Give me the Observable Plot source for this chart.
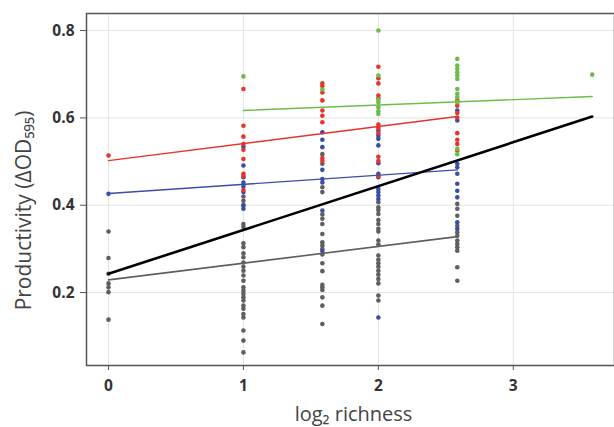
<!DOCTYPE html>
<html><head><meta charset="utf-8">
<script src="https://cdn.jsdelivr.net/npm/d3@7"></script>
<script src="https://cdn.jsdelivr.net/npm/@observablehq/plot@0.6"></script>
<style>
html,body{margin:0;padding:0;background:#fff;}
#chart svg{display:block;font-family:"Open Sans","Noto Sans",sans-serif;}
</style></head><body><div id="chart"></div>
<script>
// richness levels (x = log2 richness)
const richness = [1, 2, 3, 4, 6, 12];
const xTicks = [0, 1, 2, 3];
const yTicks = [0.2, 0.4, 0.6, 0.8];

// observed productivity per richness level, by group
const grayVals = [
  [0.340,0.279,0.243,0.221,0.212,0.201,0.138],
  [0.420,0.410,0.400,0.357,0.350,0.313,0.304,0.290,0.281,0.269,0.259,0.250,0.239,0.227,0.212,0.204,0.197,0.189,0.182,0.170,0.163,0.151,0.143,0.113,0.090,0.063],
  [0.517,0.495,0.441,0.430,0.379,0.369,0.357,0.334,0.315,0.308,0.300,0.287,0.267,0.249,0.218,0.212,0.206,0.189,0.170,0.128],
  [0.407,0.395,0.389,0.380,0.366,0.357,0.346,0.340,0.319,0.310,0.285,0.275,0.267,0.259,0.250,0.241,0.231,0.221,0.193,0.182],
  [0.403,0.392,0.376,0.353,0.338,0.330,0.319,0.311,0.304,0.296,0.258,0.227],
  []
];
const blueVals = [
  [0.426],
  [0.534,0.491,0.464,0.452,0.443,0.430,0.400,0.392],
  [0.567,0.550,0.533,0.481,0.460,0.452,0.388,0.295],
  [0.571,0.559,0.552,0.537,0.496,0.472,0.464,0.437,0.430,0.422,0.414,0.143],
  [0.617,0.594,0.495,0.487,0.472,0.449,0.433,0.418,0.361,0.346],
  []
];
const redVals = [
  [0.514],
  [0.666,0.582,0.557,0.540,0.527,0.506,0.472,0.467,0.435],
  [0.679,0.673,0.658,0.640,0.617,0.605,0.590,0.508,0.502],
  [0.717,0.691,0.679,0.651,0.645,0.585,0.577,0.565,0.511,0.501,0.467],
  [0.640,0.628,0.611,0.601,0.565,0.550,0.540,0.525],
  []
];
const greenVals = [
  [],
  [0.695],
  [0.665],
  [0.800,0.697,0.642,0.636,0.624,0.615,0.609],
  [0.735,0.720,0.712,0.704,0.697,0.689,0.666,0.655,0.647,0.636,0.529,0.517],
  [0.699]
];

// fitted regression lines: [x0, y0, x1, y1] in (log2 richness, productivity)
const fitGray  = [0, 0.229, Math.log2(6), 0.328];
const fitBlue  = [0, 0.427, Math.log2(6), 0.481];
const fitRed   = [0, 0.502, Math.log2(6), 0.603];
const fitGreen = [1, 0.617, Math.log2(12), 0.649];
const fitBlack = [0, 0.243, Math.log2(12), 0.603];

const colors = {gray:"#5f5f5f", blue:"#3a4ea6", red:"#e5342a", green:"#6dbd4a", black:"#000000"};
const xDomain = [-0.163, 3.75];
const yDomain = [0.033, 0.839];

function toRows(vals, group) {
  const rows = [];
  vals.forEach((arr, i) => arr.forEach(v => rows.push({x: Math.log2(richness[i]), y: v, group})));
  return rows;
}
const pts = [
  ...toRows(grayVals, "gray"),
  ...toRows(blueVals, "blue"),
  ...toRows(redVals, "red"),
  ...toRows(greenVals, "green")
];
function fitRows(f, group) { return [{x:f[0], y:f[1], group}, {x:f[2], y:f[3], group}]; }
const fits = [
  {rows: fitRows(fitGray, "gray"), w: 1.6},
  {rows: fitRows(fitBlue, "blue"), w: 1.4},
  {rows: fitRows(fitRed, "red"), w: 1.4},
  {rows: fitRows(fitGreen, "green"), w: 1.4},
  {rows: fitRows(fitBlack, "black"), w: 2.6}
];

const chart = Plot.plot({
  width: 614,
  height: 427,
  marginLeft: 86,
  marginRight: 0,
  marginTop: 13,
  marginBottom: 62,
  style: {fontFamily: '"Open Sans","Noto Sans",sans-serif', background: "#fff"},
  x: {domain: xDomain},
  y: {domain: yDomain},
  marks: [
    Plot.gridX(xTicks, {stroke: "#e4e4e4", strokeOpacity: 1}),
    Plot.gridY(yTicks, {stroke: "#e4e4e4", strokeOpacity: 1}),
    Plot.frame({stroke: "#555", strokeWidth: 1.5}),
    Plot.axisX(xTicks, {tickSize: 5, tickPadding: 9, fontSize: 15.5, fontWeight: 700, fill: "#333", stroke: "#555", label: null, tickFormat: d3.format("d")}),
    Plot.axisY(yTicks, {tickSize: 6, tickPadding: 6, fontSize: 15.5, fontWeight: 700, fill: "#333", stroke: "#555", label: null, tickFormat: d3.format(".1f")}),
    Plot.dot(pts, {x: "x", y: "y", r: 2.3, fill: d => colors[d.group], stroke: "none"}),
    ...fits.map(f => Plot.line(f.rows, {x: "x", y: "y", stroke: colors[f.rows[0].group], strokeWidth: f.w})),
    Plot.text(["log₂ richness"], {frameAnchor: "bottom", textAnchor: "middle", lineAnchor: "bottom", dy: 55, dx: 3, fontSize: 20, fill: "#444", text: d => d}),
    Plot.text(["Productivity (ΔOD₅₉₅)"], {frameAnchor: "left", textAnchor: "middle", lineAnchor: "middle", dx: -62, dy: 21, rotate: -90, fontSize: 21, fill: "#444", text: d => d})
  ]
});
document.getElementById("chart").appendChild(chart);
</script></body></html>
